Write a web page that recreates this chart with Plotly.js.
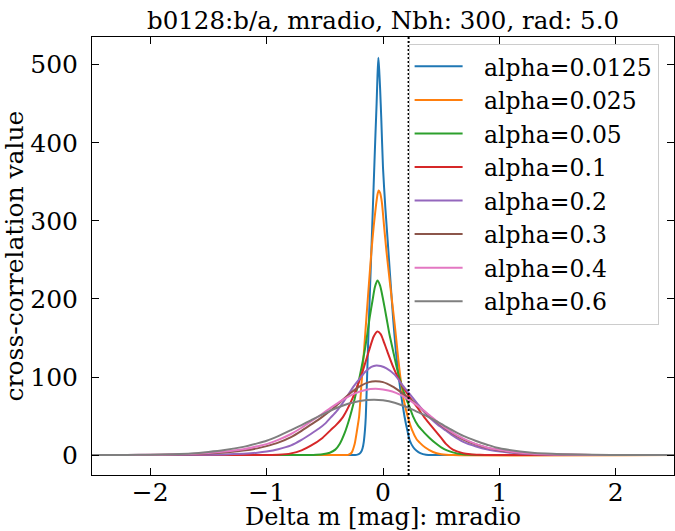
<!DOCTYPE html>
<html>
<head>
<meta charset="utf-8">
<script src="https://cdn.plot.ly/plotly-3.0.1.min.js"></script>
<style>
html, body { margin: 0; padding: 0; background: #ffffff; }
#chart { width: 675px; height: 531px; }
</style>
</head>
<body>
<div id="chart"></div>
<script>
// ---- chart text ----
const titleText = "b0128:b/a, mradio, Nbh: 300, rad: 5.0";
const xTitle = "Delta m [mag]: mradio";
const yTitle = "cross-correlation value";
const seriesLabels = ["alpha=0.0125", "alpha=0.025", "alpha=0.05", "alpha=0.1", "alpha=0.2", "alpha=0.3", "alpha=0.4", "alpha=0.6"];
const xTicks = [-2, -1, 0, 1, 2];
const yTicks = [0, 100, 200, 300, 400, 500];
const refLineX = 0.22;

// ---- series values ----
const x_a0125 = [-2.5, -0.3, -0.24, -0.22, -0.2, -0.185, -0.175, -0.165, -0.155, -0.148, -0.14, -0.13, -0.12, -0.1, -0.08, -0.065, -0.055, -0.047, -0.04, -0.033, -0.025, -0.015, 0, 0.02, 0.04, 0.06, 0.086, 0.11, 0.143, 0.165, 0.186, 0.21, 0.229, 0.26, 0.286, 0.32, 0.37, 0.45, 2.5];
const y_a0125 = [0, 0, 0.2, 0.6, 2, 5, 9, 17, 32, 48.5, 84, 133, 177, 262, 347, 410, 450, 487, 509, 494, 470, 432, 368, 317, 275, 232, 177, 134, 91, 68, 48.5, 31, 19, 10, 6, 2.5, 0.3, 0, 0];

const x_a025 = [-2.5, -0.33, -0.3, -0.27, -0.243, -0.225, -0.206, -0.185, -0.163, -0.142, -0.12, -0.1, -0.08, -0.06, -0.047, -0.037, -0.025, -0.01, 0.01, 0.029, 0.06, 0.1, 0.13, 0.157, 0.185, 0.214, 0.25, 0.29, 0.315, 0.36, 0.43, 0.5, 0.6, 2.5];
const y_a025 = [0, 0, 0.3, 3, 14.5, 30, 48.5, 91, 134, 177, 221, 260, 293, 320, 334, 339, 336, 324, 292, 262, 220, 168, 125, 91, 66, 48.5, 32, 20, 16, 10, 4, 1.2, 0, 0];

const x_a05 = [-2.5, -0.7, -0.6, -0.52, -0.457, -0.41, -0.371, -0.33, -0.285, -0.25, -0.214, -0.185, -0.157, -0.135, -0.114, -0.09, -0.07, -0.048, -0.025, 0, 0.029, 0.055, 0.086, 0.12, 0.157, 0.2, 0.23, 0.257, 0.3, 0.35, 0.4, 0.45, 0.5, 0.55, 0.6, 0.686, 0.8, 0.9, 2.5];
const y_a05 = [0, 0, 0.2, 1, 3, 7, 14.5, 28, 48.5, 68, 91, 112, 134, 155, 176.6, 198, 215, 223.6, 217, 200, 176.6, 155, 134, 111, 91, 72, 61, 50, 38, 29.5, 22, 15.5, 10, 6, 3.5, 1, 0.1, 0, 0];

const x_a1 = [-2.5, -1.05, -0.9, -0.79, -0.7, -0.62, -0.52, -0.45, -0.4, -0.343, -0.27, -0.214, -0.165, -0.12, -0.08, -0.048, -0.02, 0, 0.034, 0.09, 0.157, 0.23, 0.3, 0.357, 0.4, 0.45, 0.5, 0.543, 0.6, 0.686, 0.75, 0.83, 0.95, 2.5];
const y_a1 = [0, 0, 0.5, 2.2, 6, 12, 22, 32, 39, 49, 70, 91, 112, 134, 152, 158.3, 155, 148, 134, 112, 91, 74, 60, 48, 40, 31, 22, 14, 7, 2.5, 1, 0.3, 0, 0];

const x_a2 = [-2.5, -2.0, -1.6, -1.36, -1.2, -1.08, -1.0, -0.9, -0.79, -0.7, -0.62, -0.55, -0.5, -0.45, -0.4, -0.35, -0.3, -0.257, -0.2, -0.15, -0.1, -0.057, -0.02, 0.03, 0.1, 0.16, 0.23, 0.3, 0.35, 0.4, 0.47, 0.54, 0.6, 0.69, 0.8, 0.9, 0.97, 1.1, 1.26, 1.5, 1.8, 2.5];
const y_a2 = [0, 0, 0.3, 0.9, 1.8, 3, 4.5, 7.5, 12.5, 19.5, 27, 34, 40, 48, 56, 66, 77, 87, 98, 107, 113, 114.7, 114, 111, 103, 91, 78, 65, 56, 48, 39, 31.5, 25, 17, 11, 7, 5.2, 3, 1.4, 0.5, 0.1, 0];

const x_a3 = [-2.5, -2.2, -1.9, -1.65, -1.5, -1.36, -1.2, -1.08, -1.0, -0.9, -0.79, -0.7, -0.62, -0.53, -0.45, -0.38, -0.3, -0.2, -0.12, -0.065, 0, 0.08, 0.15, 0.23, 0.3, 0.4, 0.5, 0.6, 0.69, 0.8, 0.9, 0.97, 1.1, 1.26, 1.5, 1.8, 2.5];
const y_a3 = [0, 0.1, 0.4, 1.1, 2, 3.4, 5.8, 8.6, 11.5, 16, 23, 31, 39, 48, 57, 66, 77, 88, 93.5, 94.6, 93.5, 88, 81, 72, 63, 50, 38, 27.5, 20, 13.5, 9, 6.8, 4, 2, 0.7, 0.2, 0];

const x_a4 = [-2.5, -2.2, -1.9, -1.65, -1.5, -1.36, -1.2, -1.08, -1.0, -0.9, -0.79, -0.7, -0.62, -0.53, -0.45, -0.35, -0.25, -0.15, -0.065, 0, 0.08, 0.15, 0.23, 0.3, 0.4, 0.47, 0.54, 0.6, 0.69, 0.8, 0.9, 0.97, 1.1, 1.26, 1.4, 1.54, 1.8, 2.2, 2.5];
const y_a4 = [0.05, 0.15, 0.5, 1.5, 2.7, 4.5, 7.5, 11.2, 14, 19.5, 27, 35, 43, 52, 60.5, 70.5, 78.5, 83.5, 84.9, 84, 81.5, 77, 70, 63, 51, 42.5, 34.5, 28.5, 21, 14, 9.5, 7.4, 4.3, 2.1, 1.1, 0.6, 0.2, 0.05, 0];

const x_a6 = [-2.5, -2.2, -2.0, -1.8, -1.65, -1.5, -1.36, -1.2, -1.08, -1.0, -0.9, -0.79, -0.7, -0.62, -0.55, -0.45, -0.3, -0.2, -0.08, 0, 0.1, 0.23, 0.3, 0.4, 0.5, 0.54, 0.6, 0.69, 0.8, 0.9, 0.97, 1.1, 1.26, 1.4, 1.54, 1.8, 2.1, 2.5];
const y_a6 = [0.05, 0.2, 0.5, 1.2, 2.1, 4, 6.4, 10.5, 15, 18.4, 24.3, 32, 38.5, 44.5, 49.9, 57, 65.7, 69.4, 71, 70.2, 67, 59.8, 55, 48, 40, 36.5, 31.5, 24.5, 18, 13, 9.8, 6.3, 3.4, 1.9, 1.2, 0.4, 0.1, 0];

const seriesX = [x_a0125, x_a025, x_a05, x_a1, x_a2, x_a3, x_a4, x_a6];
const seriesY = [y_a0125, y_a025, y_a05, y_a1, y_a2, y_a3, y_a4, y_a6];

// ---- styles ----
const colors = ["#1f77b4", "#ff7f0e", "#2ca02c", "#d62728", "#9467bd", "#8c564b", "#e377c2", "#7f7f7f"];
const FONT = "DejaVu Serif, Liberation Serif, serif";

const traces = seriesLabels.map(function (name, i) {
  return {
    type: "scatter",
    mode: "lines",
    x: seriesX[i],
    y: seriesY[i],
    name: "\u2002\u2009" + name,
    legendgroup: "g" + i,
    hoverinfo: "skip",
    line: { color: colors[i], width: 2, shape: "spline", smoothing: 0.6 }
  };
});

const axisCommon = {
  ticks: "inside",
  ticklen: 7,
  tickwidth: 1,
  tickcolor: "#000",
  showline: true,
  linecolor: "#000",
  linewidth: 1,
  mirror: "ticks",
  showgrid: false,
  zeroline: false,
  tickfont: { family: FONT, size: 25, color: "#000" }
};

const layout = {
  width: 675,
  height: 531,
  margin: { l: 92, r: 1, t: 37, b: 56, pad: 0 },
  paper_bgcolor: "#ffffff",
  plot_bgcolor: "#ffffff",
  font: { family: FONT, size: 22, color: "#000" },
  showlegend: true,
  title: {
    text: titleText,
    x: 0.5, xref: "paper", xanchor: "center",
    y: 1 - 20 / 531, yref: "container", yanchor: "middle",
    font: { family: FONT, size: 24.5, color: "#000" }
  },
  xaxis: Object.assign({}, axisCommon, {
    range: [-2.5, 2.5],
    tickmode: "array",
    tickvals: xTicks,
    ticklabelstandoff: -5,
    title: { text: xTitle, standoff: 4, font: { family: FONT, size: 24, color: "#000" } }
  }),
  yaxis: Object.assign({}, axisCommon, {
    range: [-25.5, 535.5],
    tickmode: "array",
    tickvals: yTicks,
    ticklabelstandoff: 8,
    title: { text: yTitle, standoff: 0, font: { family: FONT, size: 25, color: "#000" } }
  }),
  legend: {
    x: 0.544, y: 0.985, xanchor: "left", yanchor: "top",
    bgcolor: "rgba(255,255,255,0.8)",
    bordercolor: "#cccccc",
    borderwidth: 1,
    font: { family: FONT, size: 23.5, color: "#000" },
    itemwidth: 48,
    tracegroupgap: 0
  },
  shapes: [{
    type: "line", xref: "x", yref: "paper",
    x0: refLineX, x1: refLineX, y0: 0, y1: 1,
    line: { color: "#000", width: 2, dash: "2px,2px" }
  }]
};

Plotly.newPlot("chart", traces, layout, { staticPlot: true, displayModeBar: false });
</script>
</body>
</html>
